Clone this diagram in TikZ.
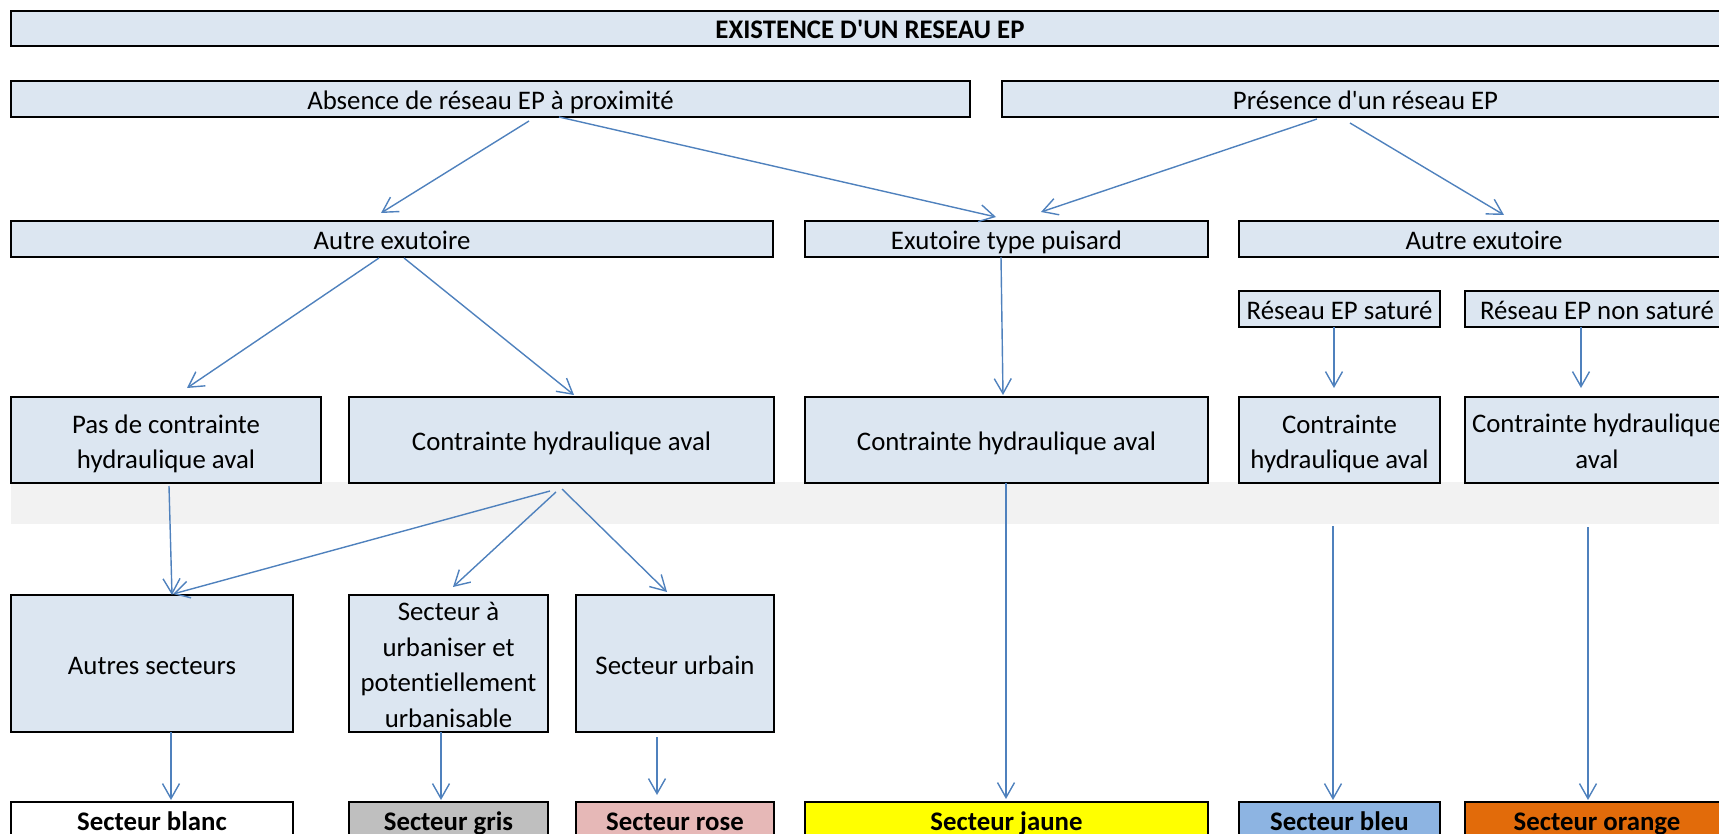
\documentclass[tikz,border=0pt]{standalone}
\usepackage{fontspec}
\setmainfont{Carlito}[Ligatures=NoCommon]
\usetikzlibrary{arrows.meta,calc}
\definecolor{boxfill}{HTML}{DCE6F1}
\definecolor{arrowblue}{HTML}{4F81BD}
\definecolor{bandgray}{HTML}{F2F2F2}
\definecolor{grisfill}{HTML}{BFBFBF}
\definecolor{rosefill}{HTML}{E6B8B7}
\definecolor{jaunefill}{HTML}{FFFF00}
\definecolor{bleufill}{HTML}{8DB4E2}
\definecolor{orangefill}{HTML}{E26B0A}
\newcommand\firstrule[1]{\rule{0pt}{#1}}
\begin{document}
\begin{tikzpicture}[x=1pt,y=-1pt,
  bx/.style={draw=black, line width=2.2pt, fill=boxfill, anchor=north west,
    inner sep=0pt, outer sep=0pt, align=center,
    font=\fontsize{26.8}{35.5}\selectfont},
  one/.style={text height=21pt, text depth=0pt},
  res/.style={font=\fontsize{26.8}{35.5}\selectfont\bfseries},
  arr/.style={draw=arrowblue, line width=1.4pt,
    -{Straight Barb[length=15pt,width=17pt,line width=1.4pt]}}]
\useasboundingbox (0,0) rectangle (1719,834);
\clip (0,0) rectangle (1719,834);

% grey band
\fill[bandgray] (11,482) rectangle (1719,524);

% row 0
\node[bx,one,res,minimum width=1718pt,minimum height=35pt] (title) at (11,11) {EXISTENCE D\textquotesingle UN RESEAU EP};
% row 1
\node[bx,one,minimum width=959pt,minimum height=36pt] (absence) at (11,81) {Absence de réseau EP à proximité};
\node[bx,one,minimum width=727pt,minimum height=36pt] (presence) at (1002,81) {Présence d\textquotesingle un réseau EP};
% row 2
\node[bx,one,minimum width=762pt,minimum height=36pt] (autreL) at (11,221) {Autre exutoire};
\node[bx,one,minimum width=403pt,minimum height=36pt] (puisard) at (805,221) {Exutoire type puisard};
\node[bx,one,minimum width=490pt,minimum height=36pt] (autreR) at (1239,221) {Autre exutoire};
% row 3
\node[bx,one,minimum width=201pt,minimum height=36pt] (sature) at (1239,291) {Réseau EP saturé};
\node[bx,one,minimum width=264pt,minimum height=36pt] (nonsat) at (1465,291) {Réseau EP non saturé};
% row 4
\node[bx,minimum width=310pt,minimum height=86pt] (pasc) at (11,397) {\firstrule{26pt}Pas de contrainte\\hydraulique aval};
\node[bx,one,minimum width=425pt,minimum height=86pt] (contL) at (349,397) {Contrainte hydraulique aval};
\node[bx,one,minimum width=403pt,minimum height=86pt] (contM) at (805,397) {Contrainte hydraulique aval};
\node[bx,minimum width=201pt,minimum height=86pt] (contB) at (1239,397) {\firstrule{26pt}Contrainte\\hydraulique aval};
\node[bx,minimum width=264pt,minimum height=86pt] (contO) at (1465,397) {\firstrule{21pt}Contrainte hydraulique\\aval};
% row 5
\node[bx,one,minimum width=282pt,minimum height=137pt] (autres) at (11,595) {Autres secteurs};
\node[bx,minimum width=199pt,minimum height=137pt] (urbaniser) at (349,595) {\firstrule{21pt}Secteur à\\urbaniser et\\potentiellement\\urbanisable};
\node[bx,one,minimum width=198pt,minimum height=137pt] (urbain) at (576,595) {Secteur urbain};
% row 6
\node[bx,one,res,fill=white,minimum width=282pt,minimum height=36pt] (blanc) at (11,802) {Secteur blanc};
\node[bx,one,res,fill=grisfill,minimum width=199pt,minimum height=36pt] (gris) at (349,802) {Secteur gris};
\node[bx,one,res,fill=rosefill,minimum width=198pt,minimum height=36pt] (rose) at (576,802) {Secteur rose};
\node[bx,one,res,fill=jaunefill,minimum width=403pt,minimum height=36pt] (jaune) at (805,802) {Secteur jaune};
\node[bx,one,res,fill=bleufill,minimum width=201pt,minimum height=36pt] (bleu) at (1239,802) {Secteur bleu};
\node[bx,one,res,fill=orangefill,minimum width=264pt,minimum height=36pt] (orange) at (1465,802) {Secteur orange};

% connectors
\draw[arr] ($(absence.south west)+(518,4)$) -- ($(autreL.north west)+(370,-8)$);
\draw[arr] ($(absence.south west)+(548,0)$) -- ($(puisard.north west)+(191,-4)$);
\draw[arr] ($(presence.south west)+(315,2)$) -- ($(puisard.north west)+(236,-9)$);
\draw[arr] ($(presence.south west)+(348,6)$) -- ($(autreR.north west)+(265,-6)$);
\draw[arr] ($(autreL.south west)+(368,1)$) -- ($(pasc.north west)+(176,-9)$);
\draw[arr] ($(autreL.south west)+(393,1)$) -- ($(contL.north west)+(225,-2)$);
\draw[arr] ($(puisard.south west)+(196,0)$) -- ($(contM.north west)+(198,-2)$);
\draw[arr] ($(sature.south west)+(95,0)$) -- ($(contB.north west)+(95,-9)$);
\draw[arr] ($(nonsat.south west)+(116,0)$) -- ($(contO.north west)+(116,-9)$);
\draw[arr] ($(pasc.south west)+(158,3)$) -- ($(autres.north west)+(161,0)$);
\draw[arr] ($(contL.south west)+(201,8)$) -- ($(autres.north west)+(162,-1)$);
\draw[arr] ($(contL.south west)+(207,9)$) -- ($(urbaniser.north west)+(104,-8)$);
\draw[arr] ($(contL.south west)+(213,6)$) -- ($(urbain.north west)+(91,-3)$);
\draw[arr] ($(contM.south west)+(201,0)$) -- ($(jaune.north west)+(201,-3)$);
\draw[arr] ($(contB.south west)+(94,43)$) -- ($(bleu.north west)+(94,-2)$);
\draw[arr] ($(contO.south west)+(123,44)$) -- ($(orange.north west)+(123,-2)$);
\draw[arr] ($(autres.south west)+(160,0)$) -- ($(blanc.north west)+(160,-2)$);
\draw[arr] ($(urbaniser.south west)+(92,0)$) -- ($(gris.north west)+(92,-2)$);
\draw[arr] ($(urbain.south west)+(81,5)$) -- ($(rose.north west)+(81,-7)$);
\end{tikzpicture}
\end{document}
